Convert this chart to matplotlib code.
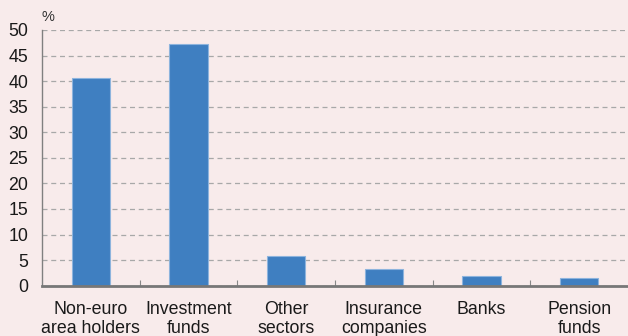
import matplotlib
matplotlib.use("Agg")
import matplotlib.pyplot as plt
from matplotlib.ticker import FixedLocator

categories = ["Non-euro\narea holders", "Investment\nfunds", "Other\nsectors",
              "Insurance\ncompanies", "Banks", "Pension\nfunds"]
shares = [40.6, 47.2, 5.8, 3.3, 1.8, 1.6]
y_ticks = [0, 5, 10, 15, 20, 25, 30, 35, 40, 45, 50]

bg = "#f8ebeb"
bar_color = "#3f7fc1"

plt.rcParams["font.family"] = ["Liberation Sans", "DejaVu Sans"]

fig = plt.figure(figsize=(6.28, 3.36), dpi=100, facecolor=bg)
ax = fig.add_axes([42 / 628, 1 - 285.7 / 336, 586 / 628, 255.7 / 336])
ax.set_facecolor(bg)

x = list(range(len(categories)))
ax.bar(x, shares, width=0.39, color=bar_color, edgecolor="#8db4dd",
       linewidth=0.8, zorder=3)

ax.set_xlim(-0.5, len(categories) - 0.5)
ax.set_ylim(0, 50)
ax.set_yticks(y_ticks)
ax.set_yticklabels([str(t) for t in y_ticks], fontsize=12.8, color="#1a1a1a")
ax.tick_params(axis="y", length=0, pad=10)

ax.set_xticks(x)
ax.set_xticklabels(categories, fontsize=12.8, color="#1a1a1a", linespacing=1.12)
ax.tick_params(axis="x", length=0, pad=11)
# small separators between categories
ax.xaxis.set_minor_locator(FixedLocator([i + 0.5 for i in range(len(categories) - 1)]))
ax.tick_params(axis="x", which="minor", direction="in", length=4,
               color="#888888", width=0.8)

ax.grid(axis="y", linestyle=(0, (4, 3)), color="#a8a8a8", linewidth=0.9, zorder=0)
ax.set_axisbelow(True)

for side in ("top", "right"):
    ax.spines[side].set_visible(False)
ax.spines["left"].set_color("#808080")
ax.spines["left"].set_linewidth(1.0)
ax.spines["bottom"].set_color("#777777")
ax.spines["bottom"].set_linewidth(2.0)
ax.spines["bottom"].set_zorder(4)

fig.text(42 / 628, 1 - 17 / 336, "%", fontsize=10.5, color="#333333", va="center")

fig.savefig("out.png", dpi=100, facecolor=bg)
